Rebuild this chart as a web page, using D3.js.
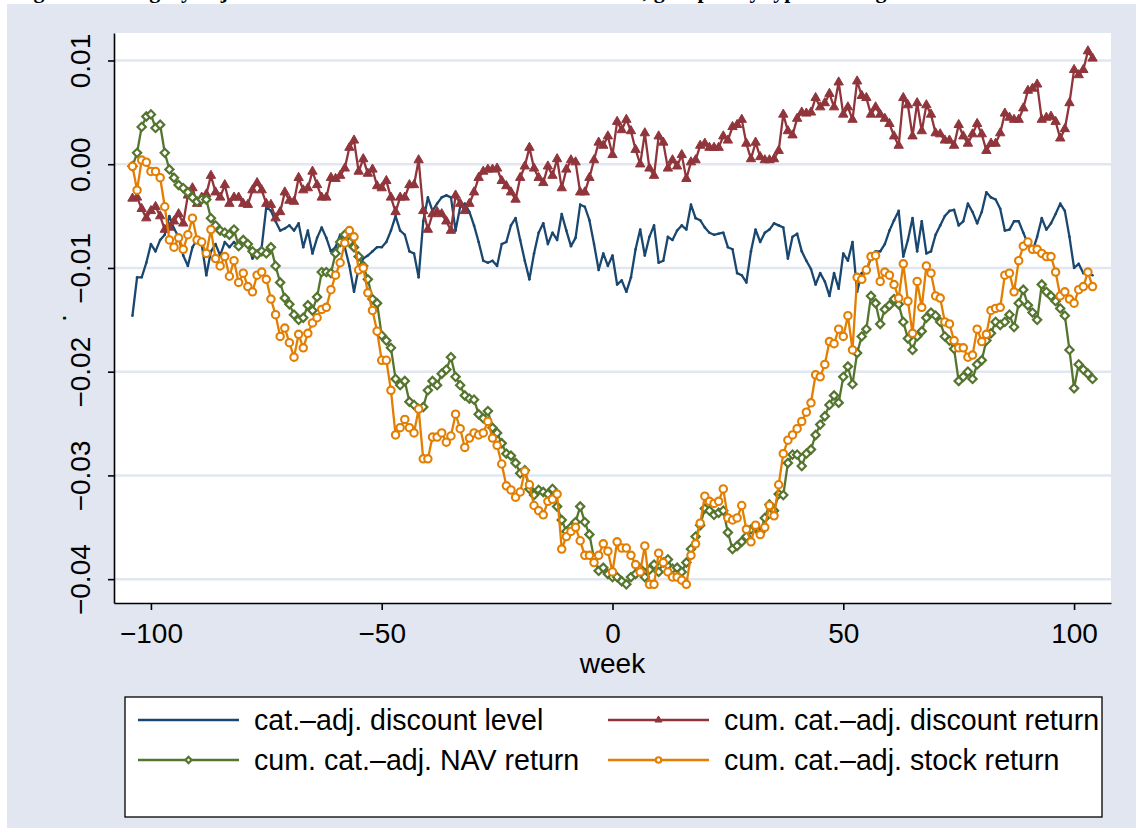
<!DOCTYPE html>
<html>
<head>
<meta charset="utf-8">
<script src="https://cdn.jsdelivr.net/npm/d3@7"></script>
<style>
  body { margin: 0; background: #ffffff; }
  svg text { font-family: "Liberation Sans", Arial, sans-serif; fill: #000; }
</style>
</head>
<body>
<div id="chart"></div>
<script>
// weeks around the event
const weeks = d3.range(-104, 105);

// cat.-adj. discount level
const discountLevel = [
  -.0146,-.0109,-.0109,-.0095,-.0077,-.0084,-.0073,-.0068,-.0050,-.0062,
  -.0070,-.0088,-.0098,-.0080,-.0073,-.0077,-.0107,-.0084,-.0077,-.0088,
  -.0075,-.0080,-.0075,-.0080,-.0070,-.0077,-.0091,-.0084,-.0080,-.0041,
  -.0045,-.0055,-.0064,-.0062,-.0059,-.0064,-.0057,-.0080,-.0064,-.0086,
  -.0071,-.0061,-.0071,-.0084,-.0080,-.0068,-.0080,-.0098,-.0123,-.0100,
  -.0091,-.0088,-.0084,-.0080,-.0080,-.0075,-.0064,-.0050,-.0064,-.0068,
  -.0084,-.0086,-.0109,-.0055,-.0032,-.0045,-.0038,-.0032,-.0030,-.0032,
  -.0064,-.0041,-.0038,-.0046,-.0059,-.0075,-.0093,-.0095,-.0093,-.0098,
  -.0077,-.0075,-.0059,-.0052,-.0073,-.0093,-.0111,-.0086,-.0066,-.0057,
  -.0077,-.0066,-.0073,-.0048,-.0064,-.0079,-.0071,-.0039,-.0041,-.0054,
  -.0077,-.0102,-.0086,-.0098,-.0088,-.0116,-.0112,-.0123,-.0109,-.0082,
  -.0063,-.0088,-.0070,-.0059,-.0095,-.0093,-.0070,-.0073,-.0064,-.0059,
  -.0063,-.0039,-.0052,-.0054,-.0061,-.0066,-.0068,-.0067,-.0066,-.0080,
  -.0082,-.0105,-.0107,-.0114,-.0084,-.0063,-.0075,-.0066,-.0063,-.0057,
  -.0059,-.0061,-.0091,-.0070,-.0067,-.0084,-.0093,-.0101,-.0116,-.0105,
  -.0113,-.0127,-.0105,-.0120,-.0086,-.0093,-.0075,-.0123,-.0105,-.0102,
  -.0091,-.0084,-.0084,-.0077,-.0064,-.0054,-.0045,-.0089,-.0073,-.0052,
  -.0084,-.0055,-.0086,-.0084,-.0068,-.0059,-.0050,-.0045,-.0044,-.0059,
  -.0055,-.0038,-.0046,-.0057,-.0046,-.0027,-.0032,-.0034,-.0043,-.0064,
  -.0063,-.0055,-.0055,-.0066,-.0077,-.0084,-.0070,-.0052,-.0063,-.0057,
  -.0048,-.0038,-.0045,-.0070,-.0100,-.0096,-.0105,-.0105,-.0107
];

// cum. cat.-adj. discount return
const discountReturn = [
  -.0033,-.0032,-.0043,-.0052,-.0045,-.0041,-.0050,-.0063,-.0061,-.0055,
  -.0048,-.0057,-.0030,-.0023,-.0038,-.0032,-.0029,-.0011,-.0027,-.0032,
  -.0020,-.0038,-.0032,-.0032,-.0038,-.0039,-.0025,-.0018,-.0025,-.0038,
  -.0039,-.0052,-.0046,-.0027,-.0035,-.0036,-.0013,-.0025,-.0023,-.0007,
  -.0020,-.0032,-.0032,-.0013,-.0014,-.0011,-.0004,.0016,.0023,-.0007,
  .0005,-.0009,-.0005,-.0021,-.0023,-.0016,-.0032,-.0046,-.0032,-.0032,
  -.0020,-.0020,.0004,-.0045,-.0063,-.0048,-.0046,-.0048,-.0055,-.0064,
  -.0030,-.0038,-.0045,-.0038,-.0027,-.0013,-.0007,-.0005,-.0005,-.0004,
  -.0016,-.0021,-.0027,-.0034,-.0013,-.0002,.0016,-.0004,-.0013,-.0018,
  -.0002,-.0011,.0005,-.0023,-.0005,.0004,.0002,-.0027,-.0027,-.0013,
  .0004,.0021,.0018,.0027,.0009,.0041,.0033,.0043,.0032,.0014,
  .0000,.0030,-.0004,-.0011,.0027,.0021,-.0004,.0004,-.0002,.0009,
  -.0014,.0002,.0004,.0018,.0020,.0016,.0016,.0016,.0027,.0023,
  .0036,.0038,.0043,.0020,.0005,.0021,.0007,.0004,.0004,.0005,
  .0013,.0048,.0032,.0028,.0044,.0050,.0049,.0050,.0064,.0055,
  .0059,.0068,.0055,.0079,.0048,.0055,.0043,.0080,.0066,.0064,
  .0048,.0055,.0048,.0044,.0039,.0027,.0018,.0064,.0057,.0027,
  .0059,.0032,.0057,.0048,.0030,.0029,.0023,.0023,.0018,.0038,
  .0027,.0020,.0029,.0039,.0029,.0013,.0020,.0020,.0030,.0049,
  .0045,.0043,.0043,.0054,.0071,.0073,.0077,.0043,.0045,.0046,
  .0041,.0025,.0034,.0059,.0091,.0086,.0091,.0109,.0102
];

// cum. cat.-adj. NAV return
const navReturn = [
  -.0002,.0011,.0036,.0046,.0048,.0035,.0038,.0011,-.0005,-.0013,
  -.0020,-.0023,-.0027,-.0032,-.0036,-.0034,-.0034,-.0052,-.0059,-.0064,
  -.0066,-.0068,-.0063,-.0079,-.0073,-.0077,-.0084,-.0087,-.0084,-.0086,
  -.0080,-.0098,-.0114,-.0129,-.0135,-.0145,-.0150,-.0148,-.0136,-.0141,
  -.0128,-.0104,-.0104,-.0105,-.0086,-.0075,-.0068,-.0075,-.0080,-.0089,
  -.0098,-.0111,-.0130,-.0134,-.0165,-.0170,-.0177,-.0207,-.0213,-.0209,
  -.0229,-.0232,-.0236,-.0234,-.0218,-.0209,-.0213,-.0202,-.0198,-.0186,
  -.0205,-.0213,-.0223,-.0226,-.0227,-.0241,-.0245,-.0238,-.0254,-.0259,
  -.0269,-.0279,-.0281,-.0288,-.0298,-.0295,-.0313,-.0319,-.0314,-.0316,
  -.0318,-.0313,-.0330,-.0343,-.0354,-.0350,-.0345,-.0330,-.0345,-.0357,
  -.0380,-.0392,-.0389,-.0395,-.0398,-.0398,-.0402,-.0405,-.0398,-.0395,
  -.0390,-.0398,-.0391,-.0386,-.0393,-.0384,-.0381,-.0390,-.0389,-.0393,
  -.0384,-.0371,-.0359,-.0348,-.0332,-.0334,-.0338,-.0336,-.0334,-.0355,
  -.0371,-.0368,-.0364,-.0359,-.0352,-.0350,-.0355,-.0341,-.0328,-.0334,
  -.0318,-.0319,-.0288,-.0280,-.0280,-.0291,-.0279,-.0275,-.0261,-.0251,
  -.0243,-.0232,-.0223,-.0230,-.0205,-.0195,-.0212,-.0182,-.0166,-.0159,
  -.0127,-.0134,-.0154,-.0140,-.0136,-.0130,-.0135,-.0152,-.0168,-.0179,
  -.0166,-.0161,-.0148,-.0143,-.0146,-.0152,-.0166,-.0170,-.0178,-.0209,
  -.0205,-.0200,-.0207,-.0193,-.0189,-.0170,-.0163,-.0152,-.0155,-.0152,
  -.0145,-.0157,-.0134,-.0121,-.0136,-.0143,-.0150,-.0116,-.0123,-.0127,
  -.0132,-.0139,-.0146,-.0179,-.0216,-.0193,-.0198,-.0202,-.0207
];

// cum. cat.-adj. stock return
const stockReturn = [
  -.0002,-.0025,.0004,.0002,-.0007,-.0007,-.0013,-.0041,-.0073,-.0080,
  -.0071,-.0082,-.0068,-.0052,-.0073,-.0075,-.0086,-.0063,-.0091,-.0098,
  -.0089,-.0108,-.0093,-.0114,-.0105,-.0118,-.0123,-.0107,-.0104,-.0111,
  -.0130,-.0145,-.0166,-.0158,-.0172,-.0186,-.0164,-.0177,-.0163,-.0153,
  -.0148,-.0140,-.0138,-.0121,-.0107,-.0095,-.0076,-.0064,-.0070,-.0102,
  -.0100,-.0124,-.0141,-.0161,-.0189,-.0189,-.0218,-.0261,-.0254,-.0246,
  -.0254,-.0259,-.0236,-.0284,-.0284,-.0263,-.0263,-.0259,-.0268,-.0262,
  -.0241,-.0255,-.0273,-.0264,-.0259,-.0261,-.0259,-.0248,-.0264,-.0271,
  -.0289,-.0310,-.0314,-.0321,-.0316,-.0296,-.0309,-.0329,-.0334,-.0338,
  -.0325,-.0323,-.0318,-.0371,-.0359,-.0354,-.0350,-.0363,-.0377,-.0377,
  -.0384,-.0377,-.0366,-.0373,-.0393,-.0364,-.0370,-.0370,-.0377,-.0386,
  -.0393,-.0368,-.0405,-.0405,-.0375,-.0384,-.0393,-.0398,-.0398,-.0401,
  -.0405,-.0377,-.0366,-.0346,-.0320,-.0325,-.0327,-.0325,-.0313,-.0341,
  -.0343,-.0341,-.0329,-.0352,-.0364,-.0348,-.0357,-.0350,-.0329,-.0339,
  -.0309,-.0279,-.0266,-.0261,-.0255,-.0248,-.0239,-.0230,-.0203,-.0205,
  -.0193,-.0171,-.0173,-.0159,-.0166,-.0146,-.0179,-.0109,-.0111,-.0102,
  -.0089,-.0088,-.0113,-.0104,-.0107,-.0116,-.0129,-.0096,-.0132,-.0163,
  -.0113,-.0138,-.0098,-.0105,-.0127,-.0129,-.0152,-.0154,-.0170,-.0177,
  -.0177,-.0186,-.0184,-.0159,-.0171,-.0164,-.0141,-.0139,-.0138,-.0107,
  -.0105,-.0123,-.0093,-.0079,-.0075,-.0082,-.0082,-.0086,-.0089,-.0089,
  -.0104,-.0127,-.0123,-.0130,-.0134,-.0121,-.0118,-.0104,-.0118
];

const yTicks = [0.01, 0, -0.01, -0.02, -0.03, -0.04];
const xTicks = [-100, -50, 0, 50, 100];
const labels = ["cat.\u2013adj. discount level", "cum. cat.\u2013adj. discount return",
                "cum. cat.\u2013adj. NAV return", "cum. cat.\u2013adj. stock return"];
const colors = ["#1a476f", "#90353b", "#55752f", "#e37e00"];

const w = 1136, h = 828;
const bg = "#e1e6f0";

const svg = d3.select("#chart").append("svg")
    .attr("width", w)
    .attr("height", h);

// page strip with the caption of the figure, mostly cut off above the graph
svg.append("text")
    .attr("x", 14)
    .attr("y", -2)
    .style("font-family", "'Liberation Serif', 'Times New Roman', serif")
    .style("font-weight", "bold")
    .style("font-size", "22px")
    .text("Figure 5: Category adjusted discount and returns around the event, grouped by type of reorganization");

svg.append("rect")
    .attr("x", 7).attr("y", 4)
    .attr("width", w - 7).attr("height", h - 4)
    .attr("fill", bg);

let x = d3.scaleLinear().domain([-108, 108]).range([114, 1111]);
let y = d3.scaleLinear().domain([-0.0423, 0.01265]).range([603, 33]);

svg.append("rect")
    .attr("x", 114).attr("y", 33)
    .attr("width", 1111 - 114).attr("height", 603 - 33)
    .attr("fill", "#ffffff");

svg.append("g")
    .selectAll("line")
    .data(yTicks)
    .enter()
    .append("line")
    .attr("x1", 114).attr("x2", 1111)
    .attr("y1", function (d) { return y(d); })
    .attr("y2", function (d) { return y(d); })
    .style("stroke", bg)
    .style("stroke-width", "2.5px");

let yAxis = d3.axisLeft(y).tickValues(yTicks).tickFormat(d3.format(".2f"))
    .tickSize(6).tickSizeOuter(0);
let xAxis = d3.axisBottom(x).tickValues(xTicks).tickFormat(d3.format("d"))
    .tickSize(7).tickSizeOuter(0);

let gy = svg.append("g")
    .attr("transform", "translate(114, 0)")
    .call(yAxis);
gy.selectAll("text")
    .attr("transform", "rotate(-90)")
    .attr("x", 0)
    .attr("y", -24)
    .attr("dy", 0)
    .style("text-anchor", "middle")
    .style("font-size", "28px");

let gx = svg.append("g")
    .attr("transform", "translate(0, 603)")
    .call(xAxis);
gx.selectAll("text")
    .attr("y", 40)
    .attr("dy", 0)
    .style("font-size", "28px");

svg.selectAll(".domain, .tick line")
    .style("stroke", "#000")
    .style("stroke-width", "1.6px");

svg.append("text")
    .attr("x", 612.5)
    .attr("y", 673)
    .style("text-anchor", "middle")
    .style("font-size", "28px")
    .text("week");

svg.append("text")
    .attr("transform", "translate(66, 318) rotate(-90)")
    .style("text-anchor", "middle")
    .style("font-size", "28px")
    .text(".");

// series
const series = [discountLevel, discountReturn, navReturn, stockReturn];

let line = d3.line()
    .x(function (d, i) { return x(weeks[i]); })
    .y(function (d) { return y(d); });

function drawMarkers(g, data, k, scale) {
    let sel = g.selectAll("mk")
        .data(data)
        .enter();
    if (k === 0) {
        sel.append("circle")
            .attr("cx", function (d) { return d[0]; })
            .attr("cy", function (d) { return d[1]; })
            .attr("r", 1.3 * scale)
            .attr("fill", colors[0]);
    } else if (k === 1) {
        sel.append("path")
            .attr("d", d3.symbol().type(d3.symbolTriangle).size(38 * scale * scale))
            .attr("transform", function (d) { return "translate(" + d[0] + "," + d[1] + ")"; })
            .attr("fill", colors[1])
            .attr("stroke", colors[1])
            .attr("stroke-width", 1);
    } else if (k === 2) {
        sel.append("path")
            .attr("d", d3.symbol().type(d3.symbolSquare).size(34 * scale * scale))
            .attr("transform", function (d) { return "translate(" + d[0] + "," + d[1] + ") rotate(45)"; })
            .attr("fill", "#ffffff")
            .attr("stroke", colors[2])
            .attr("stroke-width", 2.2);
    } else {
        sel.append("circle")
            .attr("cx", function (d) { return d[0]; })
            .attr("cy", function (d) { return d[1]; })
            .attr("r", 3.7 * scale)
            .attr("fill", "#ffffff")
            .attr("stroke", colors[3])
            .attr("stroke-width", 2.1);
    }
}

series.forEach(function (s, k) {
    let g = svg.append("g");
    g.append("path")
        .datum(s)
        .attr("d", line)
        .attr("fill", "none")
        .style("stroke", colors[k])
        .style("stroke-width", "2.3px")
        .style("stroke-linejoin", "round");
    let pts = s.map(function (d, i) { return [x(weeks[i]), y(d)]; });
    drawMarkers(g, pts, k, 1);
});

// legend
svg.append("rect")
    .attr("x", 125).attr("y", 697)
    .attr("width", 977).attr("height", 120)
    .attr("fill", "#ffffff")
    .attr("stroke", "#000")
    .attr("stroke-width", 1.3);

const legendPos = [[138, 720], [608, 720], [138, 760], [608, 760]];

labels.forEach(function (lab, k) {
    let p = legendPos[k];
    let g = svg.append("g");
    g.append("line")
        .attr("x1", p[0]).attr("x2", p[0] + 101)
        .attr("y1", p[1]).attr("y2", p[1])
        .style("stroke", colors[k])
        .style("stroke-width", "2.3px");
    drawMarkers(g, [[p[0] + 50.5, p[1]]], k, 0.75);
    g.append("text")
        .attr("x", p[0] + 116)
        .attr("y", p[1] + 10)
        .style("font-size", "28.6px")
        .text(lab);
});
</script>
</body>
</html>
